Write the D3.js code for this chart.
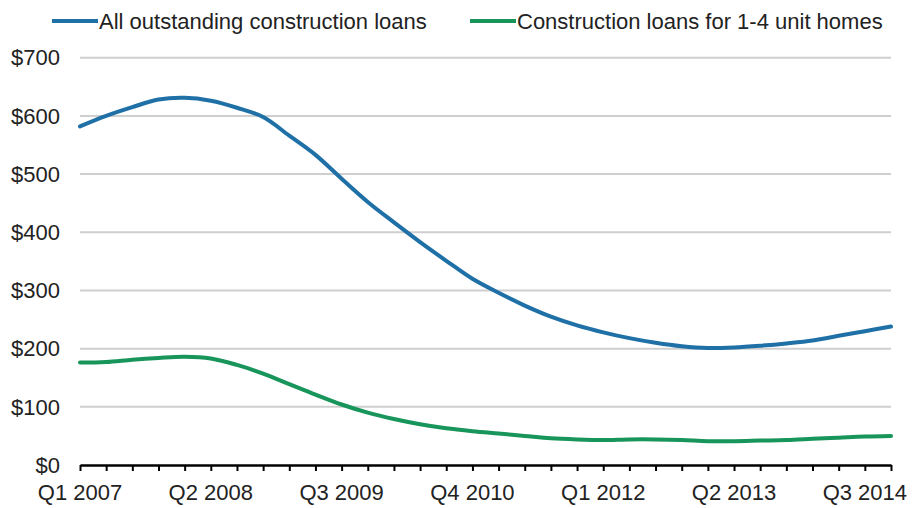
<!DOCTYPE html>
<html>
<head>
<meta charset="utf-8">
<script src="https://cdn.jsdelivr.net/npm/d3@7"></script>
<style>
  body { margin: 0; background: #fff; }
  svg { font-family: "Liberation Sans", Arial, sans-serif; }
  .grid line { stroke: #cfcfcf; stroke-width: 2; }
  .label { font-size: 22px; fill: #222; }
</style>
</head>
<body>
<svg width="918" height="508"></svg>
<script>
// quarters Q1 2007 .. Q4 2014
const quarters = [];
for (let yr = 2007; yr <= 2014; yr++) for (let q = 1; q <= 4; q++) quarters.push("Q" + q + " " + yr);

const allLoans = [582, 600, 615, 628, 631, 626, 614, 598, 566, 533, 492, 452, 417, 383, 351, 320,
  296, 274, 255, 240, 228, 218, 210, 204, 201, 202, 205, 209, 214, 222, 230, 238];
const homeLoans = [176, 177, 181, 184, 186, 183, 172, 157, 139, 121, 104, 90, 79, 70, 63, 58,
  54, 50, 46, 44, 43, 44, 44, 43, 41, 41, 42, 43, 45, 47, 49, 50];
const yTicks = [0, 100, 200, 300, 400, 500, 600, 700];
const xLabelEvery = 5;

const series = [
  { name: "All outstanding construction loans", values: allLoans, color: "#1f70a6" },
  { name: "Construction loans for 1-4 unit homes", values: homeLoans, color: "#17955a" },
];

const svg = d3.select("svg");
const plotLeft = 80, plotRight = 891, plotTop = 57.7, plotBottom = 465;

const x = d3.scaleLinear().domain([0, quarters.length - 1]).range([plotLeft, plotRight]);
const y = d3.scaleLinear().domain([0, 700]).range([plotBottom, plotTop]);

// gridlines
svg.append("g")
  .attr("class", "grid")
  .selectAll("line")
  .data(yTicks.filter((d) => d > 0))
  .enter()
  .append("line")
  .attr("x1", plotLeft)
  .attr("x2", plotRight)
  .attr("y1", (d) => y(d))
  .attr("y2", (d) => y(d));

// y labels
svg.append("g")
  .selectAll("text")
  .data(yTicks)
  .enter()
  .append("text")
  .attr("class", "label")
  .attr("x", 60)
  .attr("y", (d) => y(d))
  .attr("dy", "0.35em")
  .attr("text-anchor", "end")
  .text((d) => "$" + d);

// x axis
const xAxis = d3.axisBottom(x)
  .tickValues(d3.range(quarters.length))
  .tickSize(6)
  .tickSizeOuter(0)
  .tickFormat("");
const ax = svg.append("g").attr("transform", `translate(0,${plotBottom})`).call(xAxis);
ax.select(".domain").attr("stroke", "#000").attr("stroke-width", 2.5);
ax.selectAll(".tick line").attr("stroke", "#000").attr("stroke-width", 2);

svg.append("g")
  .selectAll("text")
  .data(quarters.map((q, i) => ({ q, i })).filter((d) => d.i % xLabelEvery === 0))
  .enter()
  .append("text")
  .attr("class", "label")
  .attr("x", (d) => x(d.i))
  .attr("y", 500)
  .attr("text-anchor", "middle")
  .text((d) => d.q);

// lines
const line = d3.line()
  .x((d, i) => x(i))
  .y((d) => y(d))
  .curve(d3.curveCatmullRom.alpha(0.5));

svg.append("g")
  .selectAll("path")
  .data(series)
  .enter()
  .append("path")
  .attr("d", (d) => line(d.values))
  .attr("fill", "none")
  .attr("stroke", (d) => d.color)
  .attr("stroke-width", 4)
  .attr("stroke-linecap", "round");

// legend
const legendPos = [{ x: 52, w: 46 }, { x: 470, w: 46 }];
const lg = svg.append("g")
  .selectAll("g")
  .data(series)
  .enter()
  .append("g")
  .attr("transform", (d, i) => `translate(${legendPos[i].x},21)`);
lg.append("line")
  .attr("x1", 0)
  .attr("x2", (d, i) => legendPos[i].w)
  .attr("stroke", (d) => d.color)
  .attr("stroke-width", 4);
lg.append("text")
  .attr("class", "label")
  .attr("x", (d, i) => legendPos[i].w + 1)
  .attr("dy", "0.35em")
  .text((d) => d.name);
</script>
</body>
</html>
